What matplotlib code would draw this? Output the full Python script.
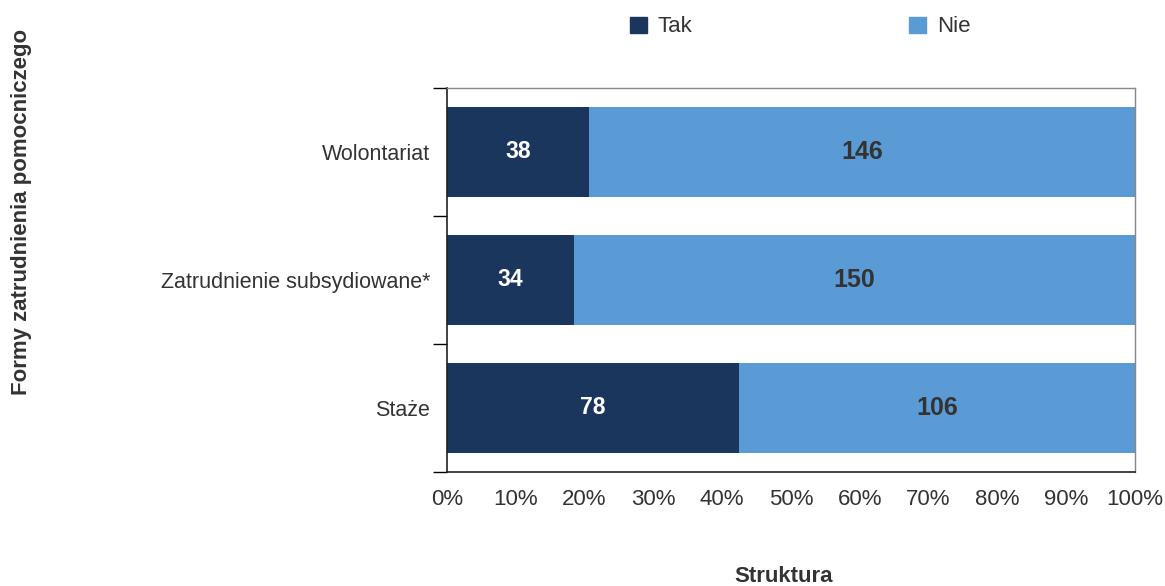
import matplotlib
matplotlib.use("Agg")
import matplotlib.pyplot as plt
import numpy as np
from matplotlib.patches import Patch

categories = ["Wolontariat", "Zatrudnienie subsydiowane*", "Staże"]
tak = [38, 34, 78]
nie = [146, 150, 106]
series_names = ["Tak", "Nie"]
xtick_labels = ["0%", "10%", "20%", "30%", "40%", "50%", "60%", "70%", "80%", "90%", "100%"]

DARK = "#1A365D"
LIGHT = "#5B9BD5"
TXT = "#333333"

plt.rcParams['font.family'] = ['Liberation Sans', 'DejaVu Sans']

fig = plt.figure(figsize=(11.65, 5.86), dpi=100)
ax = fig.add_axes([447/1165, 1-472/586, (1135-447)/1165, (472-88)/586])

tak_a = np.array(tak, float)
nie_a = np.array(nie, float)
tot = tak_a + nie_a
tak_p = tak_a / tot * 100
nie_p = nie_a / tot * 100
ypos = np.arange(len(categories))[::-1]  # top first

ax.barh(ypos, tak_p, height=0.71, color=DARK, label=series_names[0])
ax.barh(ypos, nie_p, left=tak_p, height=0.71, color=LIGHT, label=series_names[1])

for y, a, b, va, vb in zip(ypos, tak_p, nie_p, tak, nie):
    ax.text(a/2, y, str(va), ha="center", va="center", color="white",
            fontsize=16.5, fontweight="bold")
    ax.text(a + b/2, y, str(vb), ha="center", va="center", color=TXT,
            fontsize=18, fontweight="bold")

ax.set_xlim(0, 100)
ax.set_ylim(-0.5, len(categories) - 0.5)
ax.set_xticks(np.arange(0, 101, 10))
ax.set_xticklabels(xtick_labels, fontsize=16, color=TXT)
ax.tick_params(axis="x", length=0, pad=12)

ax.set_yticks(np.arange(-0.5, len(categories), 1.0))
ax.set_yticklabels([])
ax.tick_params(axis="y", which="major", direction="out", length=10, width=1, color="black")
ax.set_yticks(ypos, minor=True)
ax.set_yticklabels(categories, minor=True, fontsize=15.5, color=TXT)
ax.tick_params(axis="y", which="minor", length=0, pad=12)

for s in ["top", "right"]:
    ax.spines[s].set_color("#888888")
    ax.spines[s].set_linewidth(1)
for s in ["left", "bottom"]:
    ax.spines[s].set_color("#222222")
    ax.spines[s].set_linewidth(1.2)

fig.text(784/1165, 1-577/586, "Struktura", ha="center", va="center",
         fontsize=16, fontweight="bold", color=TXT)
fig.text(22/1165, 1-212/586, "Formy zatrudnienia pomocniczego", ha="center", va="center",
         rotation=90, fontsize=16, fontweight="bold", color=TXT)

handles = [Patch(color=DARK), Patch(color=LIGHT)]
fig.legend(handles, series_names, loc="center left", bbox_to_anchor=(630/1165, 1-27/586),
           ncol=2, frameon=False, fontsize=16, handlelength=0.75, handleheight=0.75,
           handletextpad=0.5, columnspacing=9.75, labelcolor=TXT, borderaxespad=0,
           borderpad=0)

fig.savefig("out.png", dpi=100)
